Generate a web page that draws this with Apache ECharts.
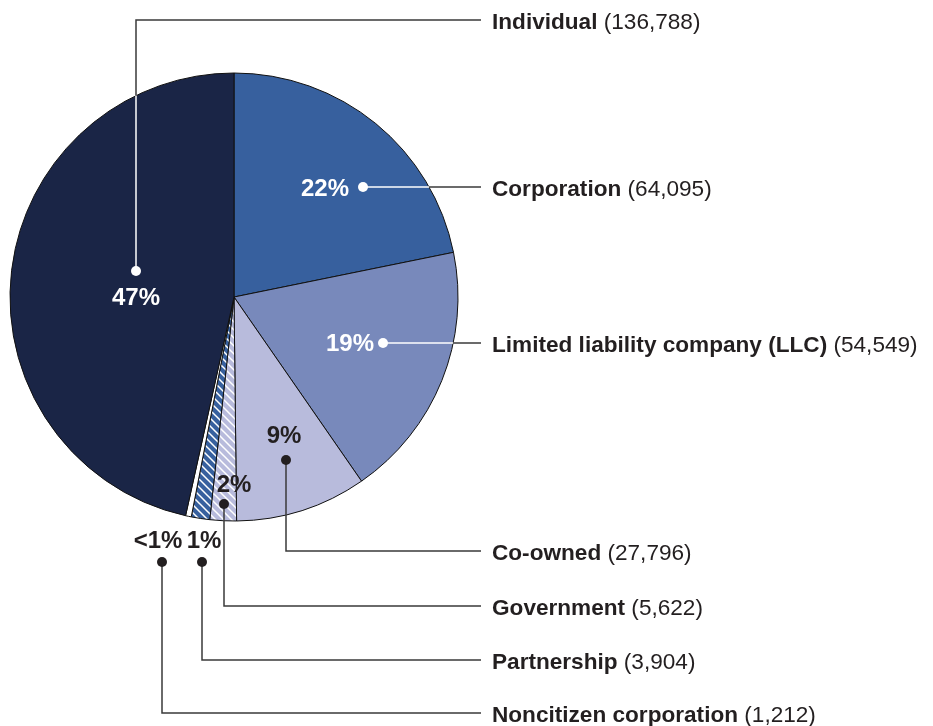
<!DOCTYPE html>
<html>
<head>
<meta charset="utf-8">
<script src="https://cdn.jsdelivr.net/npm/echarts@6/dist/echarts.min.js"></script>
<style>
  html, body { margin: 0; padding: 0; background: #fff; }
  #chart { width: 933px; height: 726px; }
</style>
</head>
<body>
<div id="chart"></div>
<script>
// data, clockwise from 12 o'clock
var categories = ['Corporation', 'Limited liability company (LLC)', 'Co-owned', 'Government', 'Partnership', 'Noncitizen corporation', 'Individual'];
var counts = [64095, 54549, 27796, 5622, 3904, 1212, 136788];

// pie geometry
var CX = 234, CY = 297, R = 224;
var FONT = '"Liberation Sans", Arial, sans-serif';
var TEXT = '#231f20';
var LINE = '#3a3a3a';

function stripes(base) {
    var c = document.createElement('canvas');
    c.width = c.height = 8;
    var g = c.getContext('2d');
    g.fillStyle = base;
    g.fillRect(0, 0, 8, 8);
    g.strokeStyle = '#fff';
    g.lineWidth = 1.5;
    g.beginPath();
    g.moveTo(-2, -2); g.lineTo(10, 10);
    g.moveTo(-2, 6); g.lineTo(2, 10);
    g.moveTo(6, -2); g.lineTo(10, 2);
    g.stroke();
    return c;
}

var fills = [
    '#37609e',
    '#7889bb',
    '#b8bbdc',
    { image: stripes('#b8bbdc'), repeat: 'repeat' },
    { image: stripes('#37609e'), repeat: 'repeat' },
    '#ffffff',
    '#1a2546'
];

// annotation layout: percent label centre, dot, connector row
var annot = [
    { label: [325, 189], dot: [363, 187], row: 187, white: true },
    { label: [350, 344], dot: [383, 343], row: 343, white: true },
    { label: [284, 436], dot: [286, 460], row: 551, white: false },
    { label: [234, 485], dot: [224, 504], row: 606, white: false },
    { label: [204, 541], dot: [202, 562], row: 660, white: false },
    { label: [158, 541], dot: [162, 562], row: 713, white: false },
    { label: [136, 298], dot: [136, 271], row: 20, white: true }
];
var LINE_END = 481, TEXT_X = 492, TEXT_DY = 2.5;

var total = counts.reduce(function (a, b) { return a + b; }, 0);

function pctText(v) {
    var p = v / total * 100;
    return p < 1 ? '<1%' : Math.round(p) + '%';
}

function fmt(v) {
    return v.toString().replace(/\B(?=(\d{3})+(?!\d))/g, ',');
}

// point where segment p0->p1 leaves the pie circle
function edgePoint(p0, p1) {
    var dx = p1[0] - p0[0], dy = p1[1] - p0[1];
    var fx = p0[0] - CX, fy = p0[1] - CY;
    var a = dx * dx + dy * dy, b = 2 * (fx * dx + fy * dy), c = fx * fx + fy * fy - R * R;
    var t = (-b + Math.sqrt(b * b - 4 * a * c)) / (2 * a);
    t = Math.max(0, Math.min(1, t));
    return [p0[0] + t * dx, p0[1] + t * dy];
}

var elements = [];
annot.forEach(function (a, i) {
    var pts;
    if (a.dot[1] === a.row) {
        pts = [a.dot, [LINE_END, a.row]];
    } else {
        pts = [a.dot, [a.dot[0], a.row], [LINE_END, a.row]];
    }
    var col = a.white ? '#fff' : TEXT;

    elements.push({
        type: 'polyline', z: a.white ? 1 : 20, silent: true,
        shape: { points: pts },
        style: { stroke: LINE, lineWidth: 1.5, fill: null }
    });
    if (a.white) {
        elements.push({
            type: 'polyline', z: 20, silent: true,
            shape: { points: [a.dot, edgePoint(pts[0], pts[1])] },
            style: { stroke: '#fff', lineWidth: 1.5, fill: null }
        });
    }
    elements.push({
        type: 'circle', z: 21, silent: true,
        shape: { cx: a.dot[0], cy: a.dot[1], r: 5 },
        style: { fill: col }
    });
    elements.push({
        type: 'text', z: 21, silent: true,
        x: a.label[0], y: a.label[1],
        style: {
            text: pctText(counts[i]),
            font: 'bold 24px ' + FONT,
            fill: col, align: 'center', verticalAlign: 'middle'
        }
    });
    elements.push({
        type: 'text', z: 21, silent: true,
        x: TEXT_X, y: a.row + TEXT_DY,
        style: {
            text: '{b|' + categories[i] + '} (' + fmt(counts[i]) + ')',
            font: '22.6px ' + FONT,
            fill: TEXT, verticalAlign: 'middle',
            rich: { b: { font: 'bold 22.6px ' + FONT, fill: TEXT } }
        }
    });
});

var chart = echarts.init(document.getElementById('chart'), null, { renderer: 'canvas' });
chart.setOption({
    backgroundColor: '#fff',
    animation: false,
    series: [{
        type: 'pie',
        z: 2,
        center: [CX, CY],
        radius: R,
        startAngle: 90,
        clockwise: true,
        avoidLabelOverlap: false,
        label: { show: false },
        labelLine: { show: false },
        emphasis: { disabled: true },
        itemStyle: { borderColor: '#111', borderWidth: 1 },
        data: categories.map(function (c, i) {
            return { name: c, value: counts[i], itemStyle: { color: fills[i] } };
        })
    }],
    graphic: { elements: elements }
});
</script>
</body>
</html>
